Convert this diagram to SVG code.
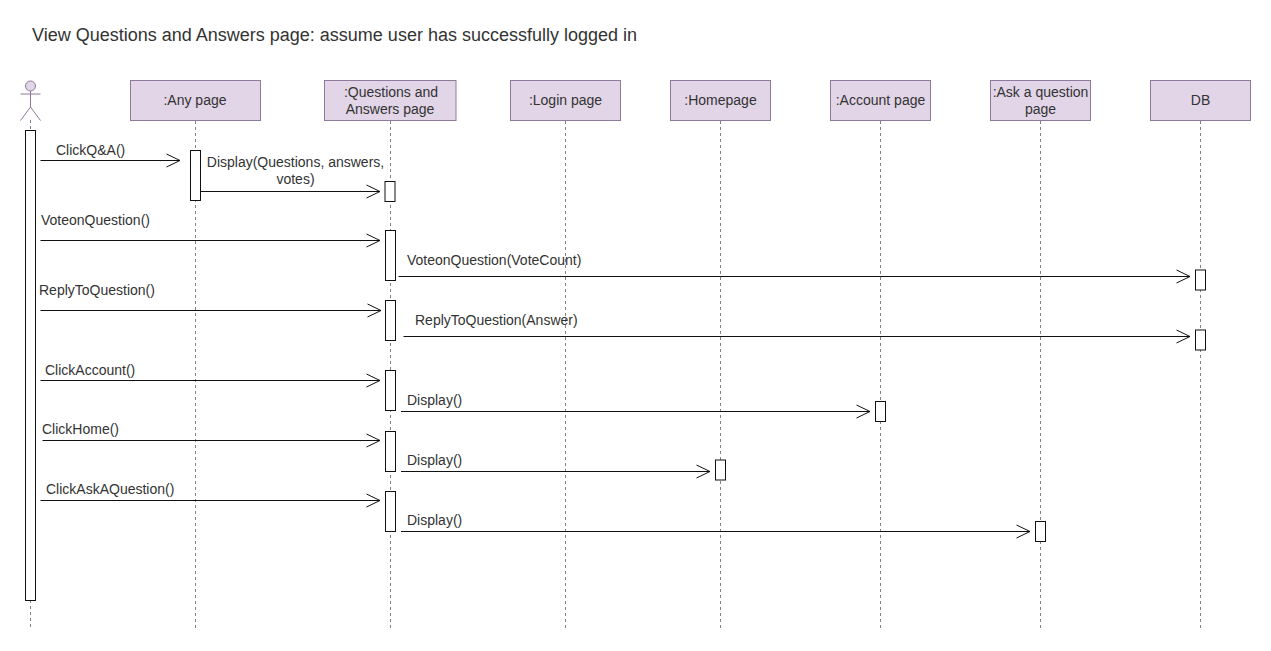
<svg xmlns="http://www.w3.org/2000/svg" width="1271" height="651" viewBox="0 0 1271 651">
<defs>
<marker id="open" markerUnits="userSpaceOnUse" markerWidth="16" markerHeight="16" refX="14" refY="8" orient="auto" overflow="visible"><path d="M0.500 1.500 L14 8 L0.500 14.500" fill="none" stroke="#111" stroke-width="1"/></marker>
</defs>
<style>
text{font-family:"Liberation Sans",Arial,sans-serif;font-size:14px;fill:#333}
.t{text-anchor:middle}
.h{fill:#e1d5e7;stroke:#8f7a9c;stroke-width:1}
.l{stroke:#8a7a92;stroke-width:1;stroke-dasharray:3 3;fill:none}
.a{fill:#fff;stroke:#111;stroke-width:1}
.m{stroke:#111;stroke-width:1;fill:none;marker-end:url(#open)}
</style>
<rect width="1271" height="651" fill="#fff"/>
<text id="title" x="32" y="41" style="font-size:18px">View Questions and Answers page: assume user has successfully logged in</text>
<g id="actor">
<path class="l" d="M30.500 120V628"/>
<circle cx="30.500" cy="86" r="5" fill="#e1d5e7" stroke="#8f7a9c"/>
<path d="M30.500 91V107M20.500 94H40.500M20.500 120.500L30.500 107L40.500 120.500" fill="none" stroke="#8f7a9c"/>
<rect class="a" x="25.500" y="130.500" width="10" height="470"/>
</g>
<g id="any-page">
<path class="l" d="M195.500 121V628"/>
<rect class="h" x="130.500" y="80.500" width="130" height="40"/>
<text class="t" x="195" y="105">:Any page</text>
<rect class="a" x="190.500" y="150.500" width="10" height="50"/>
</g>
<g id="qa-page">
<path class="l" d="M390.500 121V630"/>
<rect class="h" x="324.500" y="80.500" width="131.500" height="40"/>
<text class="t" x="391" y="97">:Questions and</text>
<text class="t" x="390" y="114">Answers page</text>
<rect class="a" x="385" y="181.500" width="10" height="20"/>
<rect class="a" x="385.500" y="230.500" width="10" height="50"/>
<rect class="a" x="385.500" y="300.500" width="10" height="40"/>
<rect class="a" x="385.500" y="370.500" width="10" height="40"/>
<rect class="a" x="385.500" y="431.500" width="10" height="40"/>
<rect class="a" x="385.500" y="491.500" width="10" height="40"/>
</g>
<g id="login-page">
<path class="l" d="M565.500 121V628"/>
<rect class="h" x="510.500" y="80.500" width="110" height="40"/>
<text class="t" x="565.500" y="105">:Login page</text>
</g>
<g id="homepage">
<path class="l" d="M720.500 121V628"/>
<rect class="h" x="670.500" y="80.500" width="100" height="40"/>
<text class="t" x="720.500" y="105">:Homepage</text>
<rect class="a" x="715.500" y="460" width="10" height="20"/>
</g>
<g id="account-page">
<path class="l" d="M880.500 121V628"/>
<rect class="h" x="830.500" y="80.500" width="100" height="40"/>
<text class="t" x="880.500" y="105">:Account page</text>
<rect class="a" x="875.500" y="401.500" width="10" height="20"/>
</g>
<g id="ask-page">
<path class="l" d="M1040.500 121V628"/>
<rect class="h" x="990.500" y="80.500" width="100" height="40"/>
<text class="t" x="1040.500" y="97">:Ask a question</text>
<text class="t" x="1040.500" y="114">page</text>
<rect class="a" x="1035.500" y="521.500" width="10" height="20"/>
</g>
<g id="db">
<path class="l" d="M1200.500 121V628"/>
<rect class="h" x="1150.500" y="80.500" width="100" height="40"/>
<text class="t" x="1200.500" y="105">DB</text>
<rect class="a" x="1195.500" y="270" width="10" height="20"/>
<rect class="a" x="1195.500" y="330" width="10" height="20"/>
</g>
<g id="connectors">
<path class="m" d="M40.500 160.500H180"/>
<path class="m" d="M201 191.500H380"/>
<path class="m" d="M40.500 240.500H380"/>
<path class="m" d="M398.500 276.500H1190"/>
<path class="m" d="M40.500 310.500H381"/>
<path class="m" d="M403.500 336.500H1190"/>
<path class="m" d="M40.500 380.500H380"/>
<path class="m" d="M401 411.500H870"/>
<path class="m" d="M42.500 440.500H380"/>
<path class="m" d="M401 471.500H710"/>
<path class="m" d="M40.500 500.500H380"/>
<path class="m" d="M401 531.500H1030"/>
<text x="56" y="155">ClickQ&amp;A()</text>
<text class="t" x="295.500" y="167">Display(Questions, answers,</text>
<text class="t" x="295.500" y="184">votes)</text>
<text x="41" y="225">VoteonQuestion()</text>
<text x="407" y="265">VoteonQuestion(VoteCount)</text>
<text x="39" y="295">ReplyToQuestion()</text>
<text x="415" y="325">ReplyToQuestion(Answer)</text>
<text x="45" y="375">ClickAccount()</text>
<text x="407" y="405">Display()</text>
<text x="42" y="434">ClickHome()</text>
<text x="407" y="465">Display()</text>
<text x="46" y="494">ClickAskAQuestion()</text>
<text x="407" y="525">Display()</text>
</g>
</svg>
